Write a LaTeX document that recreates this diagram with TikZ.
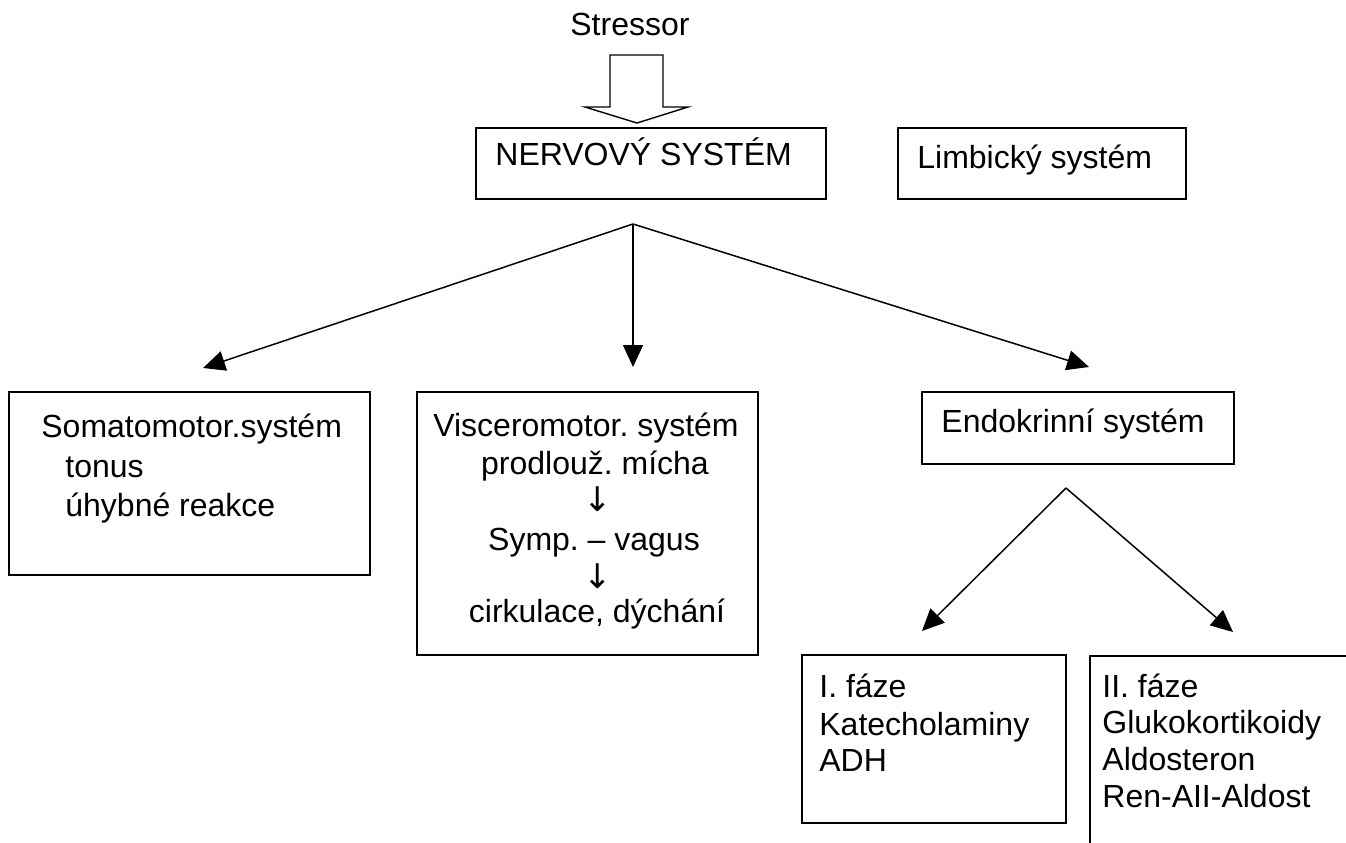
\documentclass[tikz,border=0pt]{standalone}
\usepackage{fontspec}
\setmainfont{Liberation Sans}
\newfontfamily\arrowfont{DejaVu Sans}
\usetikzlibrary{arrows.meta,fit}
\frenchspacing
\begin{document}
\begin{tikzpicture}[x=0.5pt,y=-0.5pt,
  box/.style={draw,line width=1pt,inner sep=0pt,outer sep=0pt},
  txt/.style={anchor=base west,inner sep=0pt,font=\fontsize{16}{19}\selectfont},
  ctxt/.style={anchor=base,inner sep=0pt,font=\fontsize{16}{19}\selectfont},
  arr/.style={anchor=center,inner sep=0pt,font=\arrowfont\fontsize{17}{19}\selectfont},
  conn/.style={line width=0.75pt,-{Triangle[length=11pt,width=10pt]}}]
\useasboundingbox (0,0) rectangle (1346,842);
\clip (0,0) rectangle (1346,842);
\fill[white] (0,0) rectangle (1346,842);

% Stressor and hollow arrow
\node[txt] (stressor) at (570,35) {Stressor};
\draw[line width=0.7pt,fill=white] (610,55) -- (663,55) -- (663,107) -- (688,107) -- (637,123) -- (585,107) -- (610,107) -- cycle;

% top boxes
\node[box,fit={(476,128)(826,199)}] (nerv) {};
\node[txt] (nervt) at (495,165) {NERVOVÝ SYSTÉM};
\node[box,fit={(898,128)(1186,199)}] (limb) {};
\node[txt] (limbt) at (917,168) {Limbický systém};

% branch coordinates
\coordinate (a1) at (633,224);
\coordinate (t1) at (203,368);
\coordinate (t2) at (633,367);
\coordinate (t3) at (1089,367);
\draw[conn] (a1) -- (t1);
\draw[conn] (a1) -- (t2);
\draw[conn] (a1) -- (t3);

% Somatomotor
\node[box,fit={(9,392)(370,575)}] (soma) {};
\node[txt] (soma1) at (41,437) {Somatomotor.systém};
\node[txt] (soma2) at (65,477) {tonus};
\node[txt] (soma3) at (65,516) {úhybné reakce};

% Visceromotor
\node[box,fit={(417,392)(758,655)}] (visc) {};
\node[ctxt] (visc1) at (586,436) {Visceromotor. systém};
\node[ctxt] (visc2) at (595,474) {prodlouž. mícha};
\node[arr] (visc3) at (598,499) {↓};
\node[ctxt] (visc4) at (594,550) {Symp. – vagus};
\node[arr] (visc5) at (598,576) {↓};
\node[ctxt] (visc6) at (597,622) {cirkulace, dýchání};

% Endokrinni
\node[box,fit={(922,392)(1234,464)}] (endo) {};
\node[txt] (endot) at (941,432) {Endokrinní systém};

\coordinate (a2) at (1066,488);
\coordinate (t4) at (922,631);
\coordinate (t5) at (1233,632);
\draw[conn] (a2) -- (t4);
\draw[conn] (a2) -- (t5);

% phases
\node[box,fit={(802,655)(1066,823)}] (f1) {};
\node[txt] (f1a) at (819,697) {I. fáze};
\node[txt] (f1b) at (819,735) {Katecholaminy};
\node[txt] (f1c) at (819,771) {ADH};

\node[box,fit={(1090,656)(1420,920)}] (f2) {};
\node[txt] (f2a) at (1102,697) {II. fáze};
\node[txt] (f2b) at (1102,733) {Glukokortikoidy};
\node[txt] (f2c) at (1102,770) {Aldosteron};
\node[txt] (f2d) at (1102,807) {Ren-AII-Aldost};
\end{tikzpicture}
\end{document}
